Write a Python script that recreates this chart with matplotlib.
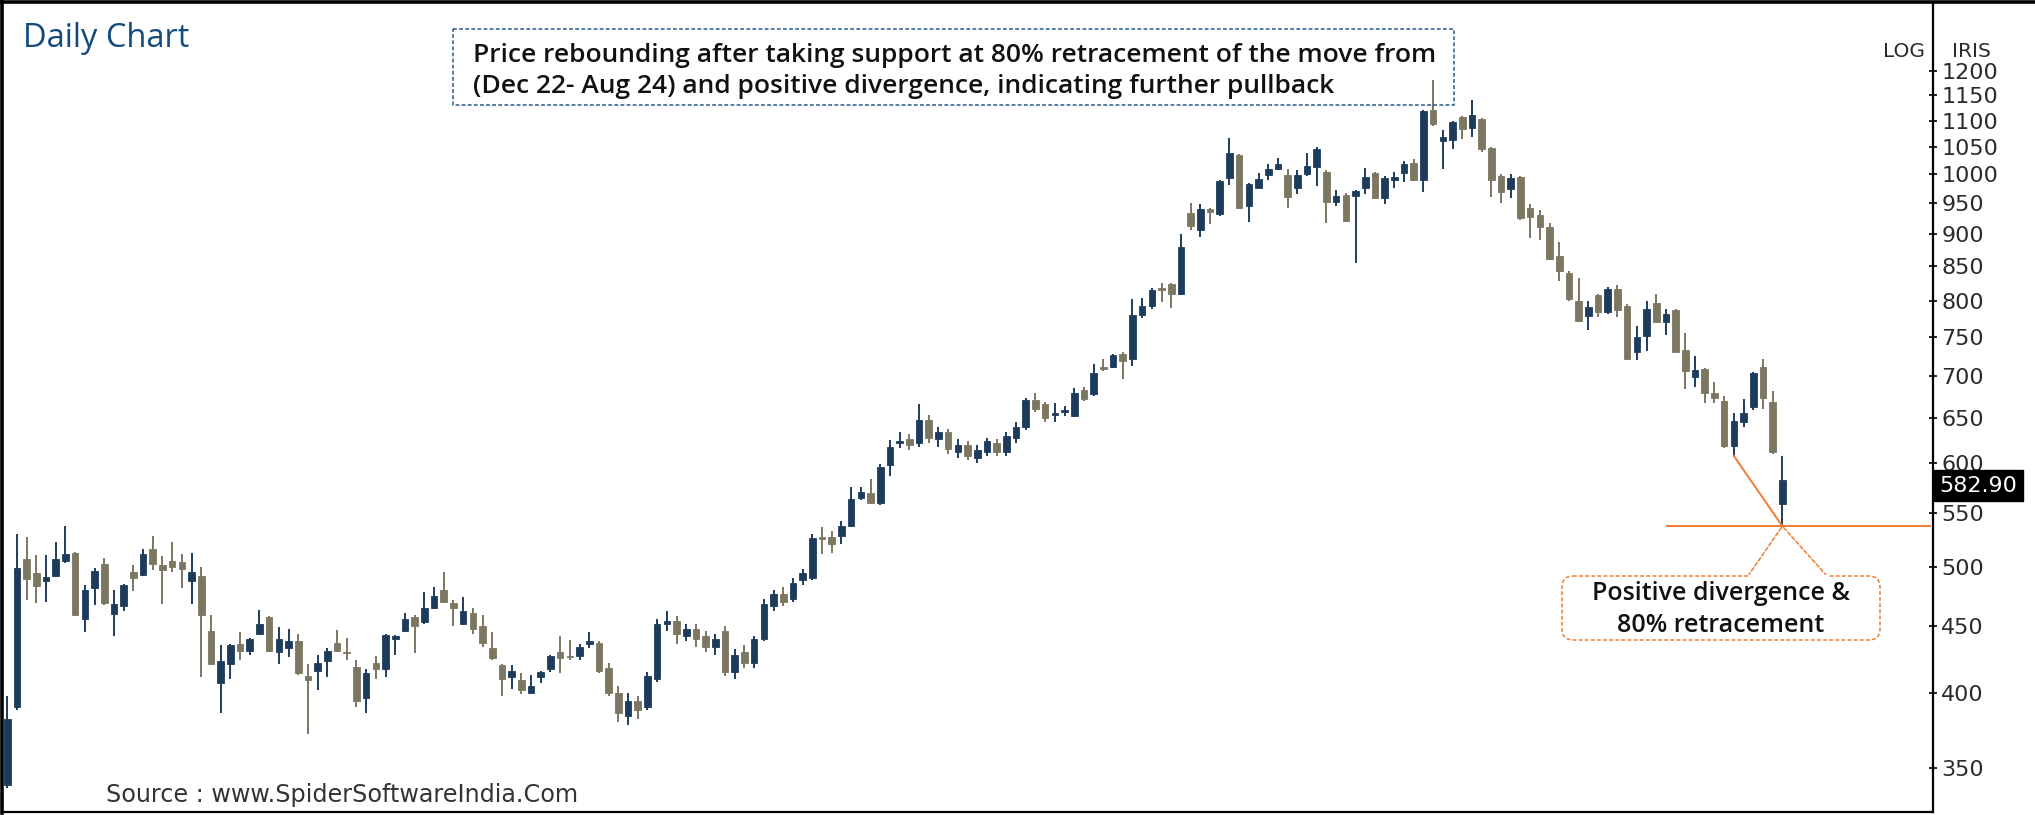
import matplotlib
matplotlib.use("Agg")
import matplotlib.pyplot as plt
import numpy as np
from matplotlib.patches import FancyBboxPatch, Rectangle, ConnectionPatch
from matplotlib.transforms import Affine2D, ScaledTranslation, blended_transform_factory
from matplotlib.lines import Line2D
from matplotlib.ticker import NullLocator

# daily OHLC (IRIS, log scale)
opens = [340, 390, 507, 494, 487, 492, 505, 512, 456, 481, 502, 460, 466, 495, 493, 516, 501, 505, 504, 487,
         492, 446, 407, 421, 436, 431, 444, 457, 430, 433, 438, 412, 416, 423, 437, 430, 419, 396, 422, 417,
         440, 446, 457, 453, 465, 480, 469, 452, 461, 450, 433, 420, 411, 409, 400, 411, 417, 430, 427, 427,
         436, 437, 418, 400, 384, 394, 390, 410, 452, 454, 442, 448, 442, 434, 446, 415, 430, 422, 440, 466,
         476, 472, 488, 490, 527, 527, 528, 537, 564, 569, 559, 598, 622, 626, 622, 648, 626, 634, 612, 620,
         606, 612, 622, 612, 628, 640, 671, 666, 654, 657, 653, 683, 678, 711, 712, 728, 722, 780, 793, 818,
         824, 810, 934, 907, 941, 932, 994, 1035, 945, 977, 999, 1009, 999, 976, 1001, 1013, 1005, 953, 965, 962,
         976, 1002, 960, 990, 1002, 1021, 990, 1121, 1060, 1063, 1106, 1086, 1103, 1047, 997, 975, 996, 942, 931, 911,
         866, 840, 800, 778, 808, 784, 816, 792, 731, 751, 797, 771, 787, 733, 699, 709, 679, 670, 619, 646,
         663, 711, 669, 558]
highs = [398, 530, 527, 510, 510, 522, 537, 513, 484, 499, 508, 480, 485, 501, 516, 528, 509, 522, 511, 512,
         500, 459, 435, 436, 445, 441, 463, 458, 449, 448, 444, 421, 428, 433, 447, 441, 424, 417, 427, 444,
         443, 461, 459, 478, 482, 495, 471, 474, 465, 459, 445, 421, 420, 414, 413, 416, 428, 442, 439, 436,
         445, 438, 422, 405, 400, 398, 415, 456, 462, 458, 452, 452, 446, 444, 450, 432, 435, 442, 472, 480,
         482, 490, 498, 530, 536, 532, 542, 575, 575, 584, 599, 625, 634, 632, 666, 654, 640, 638, 626, 624,
         620, 628, 626, 634, 646, 674, 680, 669, 668, 664, 686, 687, 715, 722, 728, 730, 802, 804, 818, 826,
         825, 900, 950, 949, 942, 990, 1067, 1036, 985, 1002, 1018, 1029, 1009, 1008, 1039, 1049, 1008, 973, 967, 973,
         1011, 1004, 997, 1005, 1024, 1027, 1121, 1181, 1081, 1100, 1108, 1141, 1105, 1049, 1001, 1001, 997, 949, 939, 917,
         887, 843, 832, 800, 810, 820, 822, 796, 765, 800, 810, 789, 789, 755, 725, 710, 693, 676, 656, 672,
         705, 722, 682, 608]
lows = [338, 388, 471, 469, 470, 491, 503, 458, 445, 467, 467, 442, 462, 479, 492, 497, 468, 495, 481, 468,
        411, 420, 386, 410, 424, 428, 443, 430, 421, 426, 413, 372, 402, 411, 430, 424, 390, 386, 410, 411,
        428, 445, 429, 452, 464, 469, 450, 451, 444, 434, 424, 398, 403, 399, 399, 407, 415, 414, 424, 424,
        433, 414, 398, 380, 378, 382, 388, 408, 446, 436, 438, 434, 430, 428, 412, 410, 418, 418, 438, 462,
        466, 470, 484, 488, 511, 512, 520, 536, 562, 558, 557, 587, 617, 614, 618, 622, 618, 610, 606, 604,
        600, 608, 608, 608, 622, 636, 657, 646, 646, 652, 651, 670, 676, 707, 710, 697, 713, 776, 788, 798,
        790, 808, 907, 895, 916, 929, 982, 940, 920, 976, 990, 1007, 943, 966, 997, 980, 918, 945, 920, 855,
        966, 958, 949, 976, 986, 988, 970, 1089, 1009, 1046, 1064, 1068, 1041, 961, 950, 959, 922, 894, 890, 859,
        828, 800, 771, 760, 777, 782, 777, 720, 720, 732, 770, 753, 730, 684, 687, 668, 668, 617, 608, 640,
        659, 661, 610, 537]
closes = [382, 499, 489, 483, 491, 507, 511, 459, 480, 496, 469, 468, 484, 490, 511, 502, 497, 500, 498, 495,
          459, 421, 423, 435, 431, 440, 452, 431, 440, 438, 414, 409, 422, 431, 431, 429, 394, 414, 417, 443,
          442, 456, 450, 465, 475, 470, 465, 462, 448, 437, 425, 410, 416, 402, 405, 415, 427, 425, 426, 434,
          438, 416, 400, 386, 394, 388, 412, 452, 454, 444, 448, 440, 434, 440, 415, 428, 422, 440, 468, 476,
          470, 486, 494, 526, 525, 520, 537, 563, 570, 559, 596, 618, 624, 620, 648, 628, 634, 616, 620, 608,
          614, 624, 612, 630, 640, 671, 661, 650, 656, 660, 680, 672, 704, 709, 727, 719, 780, 792, 815, 815,
          809, 879, 913, 940, 935, 988, 1038, 942, 983, 992, 1009, 1019, 961, 999, 1015, 1046, 953, 963, 921, 972,
          995, 960, 993, 995, 1018, 990, 1119, 1093, 1068, 1098, 1083, 1110, 1046, 990, 970, 994, 926, 928, 911, 861,
          843, 802, 772, 791, 784, 817, 787, 722, 750, 789, 771, 782, 731, 706, 708, 680, 673, 619, 647, 656,
          704, 673, 612, 582.90]
price_ticks = [350, 400, 450, 500, 550, 600, 650, 700, 750, 800, 850, 900, 950, 1000, 1050, 1100, 1150, 1200]

blue = "#1d3c5c"
khaki = "#7c7761"
orange = "#ed7d31"

W, H = 2035, 815
fig = plt.figure(figsize=(W / 100, H / 100), dpi=100)
px = Affine2D().scale(1 / W, -1 / H).translate(0, 1) + fig.transFigure

ax = fig.add_axes([3 / W, 3 / H, 1930 / W, 809 / H])
ax.set_yscale("log")
ax.set_ylim(324, 1354)
ax.set_xlim(-0.443, 198.53)

o = np.array(opens, float)
c = np.array(closes, float)
x = np.arange(len(o))
cols = np.where(c >= o, blue, khaki)
ax.vlines(x, lows, highs, colors=cols, lw=1.4, zorder=2)
ax.bar(x, np.abs(c - o), bottom=np.minimum(o, c), width=0.68, color=cols,
       edgecolor=cols, lw=0.6, zorder=3)

# axis styling
ax.yaxis.tick_right()
ax.set_yticks(price_ticks)
ax.set_yticklabels([str(t) for t in price_ticks])
ax.yaxis.set_minor_locator(NullLocator())
ax.set_xticks([])
ax.tick_params(axis="y", direction="inout", length=6, width=1.2, pad=3,
               labelsize=16, labelcolor="#2b2b2b")
for lab in ax.get_yticklabels():
    lab.set_fontfamily("DejaVu Sans")
ax.spines["top"].set_visible(False)
ax.spines["left"].set_visible(False)
ax.spines["right"].set_linewidth(1.6)
ax.spines["bottom"].set_linewidth(1.6)

# outer frame
fig.add_artist(Line2D([0, W], [1.5, 1.5], transform=px, color="black", lw=2.6))
fig.add_artist(Line2D([1.5, 1.5], [0, 813], transform=px, color="black", lw=2.6))

# last price label
bt = blended_transform_factory(ax.transAxes, ax.transData) + ScaledTranslation(0, -6 / 100, fig.dpi_scale_trans)
ax.text(1.0035, closes[-1], "582.90", transform=bt, ha="left", va="center", fontsize=16,
        color="white", family="DejaVu Sans", zorder=6, clip_on=False,
        bbox=dict(boxstyle="square,pad=0.25", fc="black", ec="black"))

fig.text(1925, 57, "LOG", transform=px, ha="right", va="baseline", fontsize=14.5,
         color="#2b2b2b", family="DejaVu Sans")
fig.text(1952, 57, "IRIS", transform=px, ha="left", va="baseline", fontsize=14.5,
         color="#2b2b2b", family="DejaVu Sans")

# titles / notes
fig.text(23, 47, "Daily Chart", transform=px, ha="left", va="baseline", fontsize=23.5,
         color="#134b7d", family="Open Sans")
fig.text(106, 802, "Source : www.SpiderSoftwareIndia.Com", transform=px, ha="left",
         va="baseline", fontsize=17.2, color="#333333", family="DejaVu Sans")

fig.add_artist(Rectangle((453, 28.5), 1001, 76, transform=px, fill=False,
                         ec="#2b5a8a", lw=1.1, ls=(0, (2.5, 1.5))))
fig.text(473, 62, "Price rebounding after taking support at 80% retracement of the move from",
         transform=px, ha="left", va="baseline", fontsize=19, family="Open Sans",
         fontweight="semibold", color="#111111")
fig.text(473, 93, "(Dec 22- Aug 24) and positive divergence, indicating further pullback",
         transform=px, ha="left", va="baseline", fontsize=19, family="Open Sans",
         fontweight="semibold", color="#111111")

# 80% retracement / divergence marks
ax.plot([178, 183], [lows[178], lows[183]], color=orange, lw=1.4, zorder=4)
ax.plot([171.1, 198.2], [lows[183], lows[183]], color=orange, lw=1.4, zorder=4, clip_on=False)

fig.add_artist(FancyBboxPatch((1562, 576), 318, 64, boxstyle="round,pad=0,rounding_size=11",
                              transform=px, fill=False, ec=orange, lw=1.1, ls=(0, (2.5, 1.5))))
fig.add_artist(Line2D([1749, 1826], [576, 576], transform=px, color="white", lw=2.5))
for xa in (1748, 1827):
    fig.add_artist(ConnectionPatch(xyA=(xa, 576), coordsA=px, xyB=(183, lows[183]),
                                   coordsB=ax.transData, color=orange, lw=1.1,
                                   ls=(0, (2.5, 1.5))))
fig.text(1721, 600, "Positive divergence &", transform=px, ha="center", va="baseline",
         fontsize=18, family="Open Sans", fontweight="semibold", color="#111111")
fig.text(1721, 632, "80% retracement", transform=px, ha="center", va="baseline",
         fontsize=18, family="Open Sans", fontweight="semibold", color="#111111")

fig.savefig("out.png", dpi=100)
